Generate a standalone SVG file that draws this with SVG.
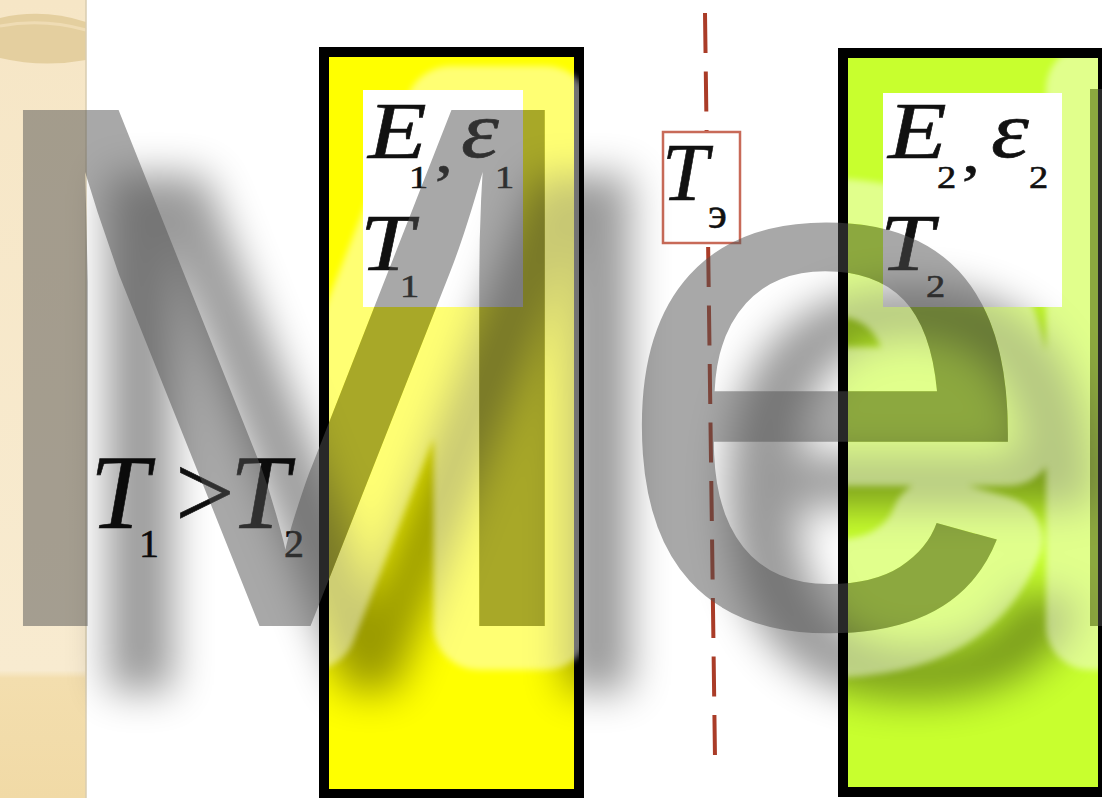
<svg xmlns="http://www.w3.org/2000/svg" width="1102" height="798" viewBox="0 0 1102 798">
<style>
.it{font-family:"Liberation Serif","Times New Roman",serif;font-style:italic;fill:#111;stroke:#111;stroke-width:0.6}
.up{font-family:"Liberation Serif","Times New Roman",serif;fill:#111;stroke:#111;stroke-width:0.6}
.plate{stroke:#000;stroke-width:10}
.wbox{fill:#fff}
.wm{font-family:"Liberation Sans",Arial,sans-serif;font-size:750px}
</style>
<defs>
<filter id="blur" x="-20%" y="-20%" width="140%" height="140%"><feGaussianBlur stdDeviation="20"/></filter>
<filter id="soft" x="-10%" y="-10%" width="120%" height="120%"><feGaussianBlur stdDeviation="3"/></filter>
<linearGradient id="strip" x1="0" y1="0" x2="0" y2="1">
<stop offset="0" stop-color="#f6e6c6"/>
<stop offset="0.84" stop-color="#f8ebd0"/>
<stop offset="0.85" stop-color="#f3deae"/>
<stop offset="1" stop-color="#f1daa6"/>
</linearGradient>
<mask id="haloMask" maskUnits="userSpaceOnUse" x="0" y="0" width="1102" height="798">
<rect x="329" y="57" width="250" height="732" fill="#fff"/>
<rect x="848" y="58" width="250" height="729" fill="#fff"/>
<rect x="363" y="90" width="160" height="217" fill="#000"/>
<rect x="883" y="93" width="179" height="214" fill="#000"/>
<text class="wm" transform="translate(-41,626) scale(1.04,1)" fill="#000">Me</text>
<rect x="1090" y="89" width="20" height="537" fill="#000"/>
</mask>
</defs>
<rect width="1102" height="798" fill="#fff"/>
<g id="side-strip">
<rect x="0" y="0" width="86" height="798" fill="url(#strip)"/>
<path d="M0,18 Q43,8 86,22 L86,60 Q43,68 0,58 Z" fill="#e4cf9f"/>
<path d="M0,26 Q43,18 86,30" fill="none" stroke="#efdcb4" stroke-width="3"/>
<line x1="86" y1="0" x2="86" y2="798" stroke="#d9ccb0" stroke-width="1.5"/>
</g>
<g id="plate-1">
<rect class="plate" x="324" y="52" width="255" height="742" fill="#ffff00"/>
<rect class="wbox" x="363" y="90" width="160" height="217"/>
<text class="it" font-size="80" transform="translate(368,158) scale(1.2,1)">E</text>
<text class="up" font-size="32" transform="translate(409,188) scale(1.2,1)">1</text>
<text class="up" font-size="60" transform="translate(435,172) scale(1.2,1)">,</text>
<text class="it" font-size="80" transform="translate(461,157) scale(1.2,1)">ε</text>
<text class="up" font-size="32" transform="translate(495,188) scale(1.2,1)">1</text>
<text class="it" font-size="80" transform="translate(360,270) scale(1.2,1)">T</text>
<text class="up" font-size="32" transform="translate(400,297) scale(1.2,1)">1</text>
</g>
<g id="plate-2">
<rect class="plate" x="843" y="53" width="260" height="739" fill="#c8ff2e"/>
<rect class="wbox" x="883" y="93" width="179" height="214"/>
<text class="it" font-size="80" transform="translate(888,158) scale(1.2,1)">E</text>
<text class="up" font-size="32" transform="translate(937,188) scale(1.2,1)">2</text>
<text class="up" font-size="60" transform="translate(962,172) scale(1.2,1)">,</text>
<text class="it" font-size="80" transform="translate(991,157) scale(1.2,1)">ε</text>
<text class="up" font-size="32" transform="translate(1029,188) scale(1.2,1)">2</text>
<text class="it" font-size="80" transform="translate(880,270) scale(1.2,1)">T</text>
<text class="up" font-size="32" transform="translate(926,297) scale(1.2,1)">2</text>
</g>
<g id="connectors">
<line x1="705" y1="13" x2="715" y2="758" stroke="#aa3c28" stroke-width="4" stroke-dasharray="40 18.5"/>
</g>
<g id="node-Te">
<rect x="663" y="132" width="77" height="111" fill="#fff" stroke="#c86a58" stroke-width="2.5"/>
<text class="it" font-size="83" x="662" y="200">T</text>
<text class="up" font-size="44" x="708" y="228" fill="#333" stroke="none">э</text>
</g>
<g id="label-T1-T2">
<text class="it" font-size="106" x="90" y="528">T</text>
<text class="up" font-size="40" x="139" y="557">1</text>
<text class="up" font-size="106" x="175" y="528">&gt;</text>
<text class="it" font-size="106" x="230" y="528">T</text>
<text class="up" font-size="40" x="284" y="557">2</text>
</g>
<g id="watermark">
<g filter="url(#blur)" transform="translate(85,65)" opacity="0.4">
<text class="wm" transform="translate(-41,626) scale(1.04,1)" fill="#000">Me</text>
<rect x="1090" y="89" width="70" height="537" fill="#000"/>
</g>
<g mask="url(#haloMask)" opacity="0.45">
<g filter="url(#soft)">
<text class="wm" transform="translate(-41,626) scale(1.04,1)" fill="#fff" stroke="#fff" stroke-width="88" stroke-linejoin="round">Me</text>
<rect x="1090" y="89" width="70" height="537" fill="#fff" stroke="#fff" stroke-width="88" stroke-linejoin="round"/>
</g>
</g>
<g opacity="0.5">
<text class="wm" transform="translate(-41,626) scale(1.04,1)" fill="#505050">Me</text>
<rect x="1090" y="89" width="20" height="537" fill="#505050"/>
</g>
</g>
</svg>
